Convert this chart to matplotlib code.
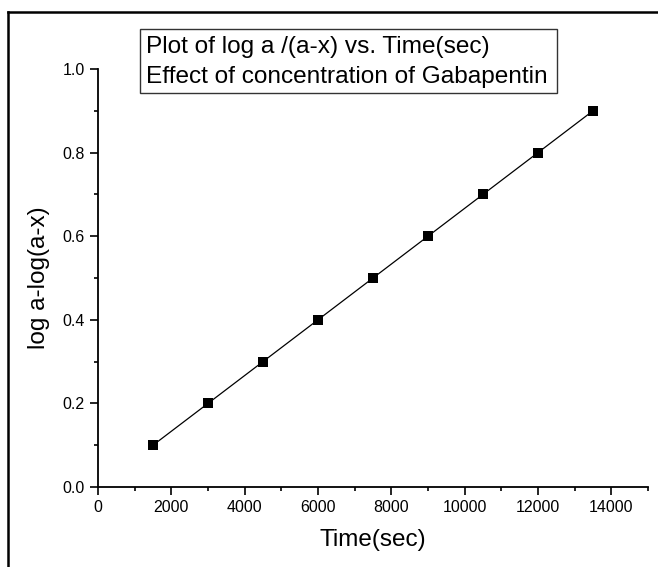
import matplotlib
matplotlib.use("Agg")
import matplotlib.pyplot as plt
from matplotlib.lines import Line2D
from matplotlib.patches import Rectangle
from matplotlib.ticker import MultipleLocator
import numpy as np

time_sec = [1500, 3000, 4500, 6000, 7500, 9000, 10500, 12000, 13500]
log_ratio = [0.1, 0.2, 0.3, 0.4, 0.5, 0.6, 0.7, 0.8, 0.9]
box_lines = ["Plot of log a /(a-x) vs. Time(sec)", "Effect of concentration of Gabapentin"]
x_label = "Time(sec)"
y_label = "log a-log(a-x)"

plt.rcParams['font.family'] = ['Liberation Sans', 'DejaVu Sans']

W, H = 658, 567
fig = plt.figure(figsize=(W / 100, H / 100), dpi=100)

def fx(px):
    return px / W

def fy(py):
    return 1 - py / H

ax = fig.add_axes([fx(98), fy(487), fx(648) - fx(98), fy(69) - fy(487)])

# linear fit line
coef = np.polyfit(time_sec, log_ratio, 1)
xf = np.array([time_sec[0], time_sec[-1]])
ax.plot(xf, np.polyval(coef, xf), color='black', linewidth=0.9)
ax.plot(time_sec, log_ratio, linestyle='none', marker='s', markersize=6.5,
        color='black', markeredgewidth=0)

ax.set_xlim(0, 15000)
ax.set_ylim(0, 1.0)
ax.xaxis.set_major_locator(MultipleLocator(2000))
ax.xaxis.set_minor_locator(MultipleLocator(1000))
ax.yaxis.set_major_locator(MultipleLocator(0.2))
ax.yaxis.set_minor_locator(MultipleLocator(0.1))
ax.set_xticks([0, 2000, 4000, 6000, 8000, 10000, 12000, 14000])
ax.set_yticklabels([f"{v:.1f}" for v in ax.get_yticks()])

for s in ['top', 'right']:
    ax.spines[s].set_visible(False)
for s in ['left', 'bottom']:
    ax.spines[s].set_linewidth(1.3)

ax.tick_params(which='major', direction='out', length=5.5, width=1.2, labelsize=11.5, pad=4)
ax.tick_params(which='minor', direction='out', length=3, width=1.2)

ax.set_xlabel(x_label, fontsize=17.5)
ax.set_ylabel(y_label, fontsize=17.5)
ax.xaxis.set_label_coords(0.5, (487 - 529) / 418)
ax.yaxis.set_label_coords((50 - 98) / 550, 0.5)

# annotation box
fig.add_artist(Rectangle((fx(140), fy(93)), fx(557) - fx(140), fy(29) - fy(93),
                         transform=fig.transFigure, fill=False, edgecolor='#333333',
                         linewidth=1.0))
fig.text(fx(146), fy(53), box_lines[0], fontsize=17.6, ha='left', va='baseline')
fig.text(fx(146), fy(83), box_lines[1], fontsize=17.6, ha='left', va='baseline')

# figure frame (left and top edges)
fig.add_artist(Line2D([fx(8), fx(8)], [fy(12), 0], transform=fig.transFigure,
                      color='black', linewidth=1.8))
fig.add_artist(Line2D([fx(8), 1], [fy(12), fy(12)], transform=fig.transFigure,
                      color='black', linewidth=1.8))

fig.savefig("out.png", dpi=100)
